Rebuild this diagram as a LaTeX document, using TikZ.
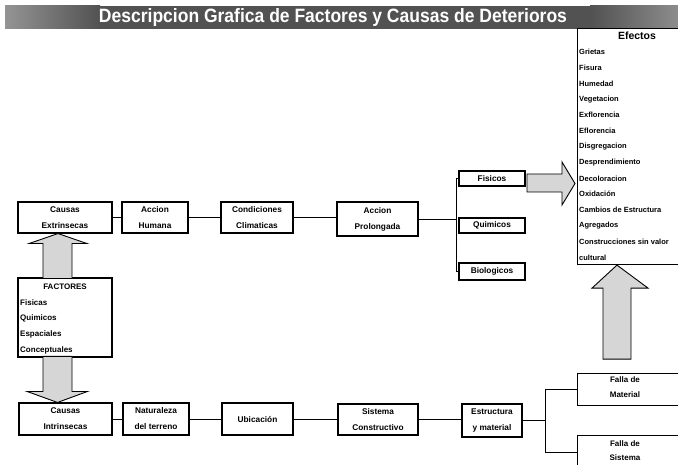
\documentclass[tikz,border=0pt]{standalone}
\usepackage{fontspec}
\setmainfont{Liberation Sans}
\usetikzlibrary{calc}
\begin{document}
\begin{tikzpicture}[x=1pt,y=-1pt,
  box/.style={draw, line width=1.1pt, fill=white, inner sep=0pt,
    font=\fontsize{8.3}{16}\selectfont\bfseries, align=center},
  conn/.style={line width=0.9pt},
  blockarrow/.style={draw, line width=0.9pt, fill=black!16, line join=miter},
  item/.style={anchor=west, inner sep=0pt, font=\fontsize{7.5}{8}\selectfont\bfseries},
  openbox/.style={draw, line width=1.1pt, inner sep=0pt, anchor=north west}]

\useasboundingbox (0,0) rectangle (678,465);
\fill[white] (0,0) rectangle (678,465);

% title bar
\fill[black!68] (5,6) rectangle (678,29);
\shade[left color=black!42, right color=black!68] (5,6) rectangle (100,29);
\shade[left color=black!68, right color=black!45] (590,6) rectangle (678,29);
\node[text=white, inner sep=0pt] (title) at (333,17.5)
  {\resizebox{468pt}{14pt}{\fontsize{16}{16}\selectfont\bfseries Descripcion Grafica de Factores y Causas de Deterioros}};

% Efectos box
\node[openbox, minimum width=125pt, minimum height=236pt] (ef) at (577,28) {};
\node[inner sep=0pt, font=\fontsize{10.5}{11}\selectfont\bfseries] (eft) at (637,36) {Efectos};
\foreach \t [count=\i from 0] in {Grietas,Fisura,Humedad,Vegetacion,Exflorencia,Eflorencia,Disgregacion,Desprendimiento,Decoloracion,Oxidación,Cambios de Estructura,Agregados,Construcciones sin valor,cultural}
  \node[item] (e\i) at (579,{52+15.8*\i}) {\t};

% upper row
\node[box, minimum width=94pt, minimum height=31pt] (ce) at (65,217.5) {Causas\\Extrinsecas};
\node[box, minimum width=66pt, minimum height=31pt] (ah) at (155,217.5) {Accion\\Humana};
\node[box, minimum width=72pt, minimum height=31pt] (cc) at (257,217.5) {Condiciones\\Climaticas};
\node[box, minimum width=81pt, minimum height=34pt] (ap) at (377.5,219) {Accion\\Prolongada};
\node[box, minimum width=66pt, minimum height=15pt] (fis) at (492,178.5) {Fisicos};
\node[box, minimum width=66pt, minimum height=15pt] (qui) at (492,225.5) {Quimicos};
\node[box, minimum width=66pt, minimum height=17pt] (bio) at (492,271.5) {Biologicos};

% factores
\node[box, minimum width=94pt, minimum height=79pt] (fac) at (65,317.5) {};
\node[inner sep=0pt, font=\fontsize{8}{8}\selectfont\bfseries] (fact) at (65,287) {FACTORES};
\foreach \t [count=\i from 0] in {Fisicas,Quimicos,Espaciales,Conceptuales}
  \node[item, font=\fontsize{8}{8}\selectfont\bfseries] (f\i) at (20,{303+15.7*\i}) {\t};

% lower row
\node[box, minimum width=93pt, minimum height=32pt] (ci) at (65.5,419) {Causas\\Intrinsecas};
\node[box, minimum width=66pt, minimum height=32pt] (nt) at (156,419) {Naturaleza\\del terreno};
\node[box, minimum width=71pt, minimum height=32pt] (ub) at (257.5,419) {Ubicación};
\node[box, minimum width=80pt, minimum height=31pt] (sc) at (378,419.5) {Sistema\\Constructivo};
\node[box, minimum width=60pt, minimum height=33pt] (em) at (492,420.5) {Estructura\\y material};
\node[openbox, minimum width=125pt, minimum height=32pt] (fm) at (577,373) {};
\node[inner sep=0pt, align=center, font=\fontsize{8}{15}\selectfont\bfseries] (fmt) at (625,387.5) {Falla de\\Material};
\node[openbox, minimum width=125pt, minimum height=34pt] (fs) at (577,435) {};
\node[inner sep=0pt, align=center, font=\fontsize{8}{14}\selectfont\bfseries] (fst) at (625,450.5) {Falla de\\Sistema};

% connectors upper
\draw[conn] (ce.east) -- (ah.west);
\draw[conn] (ah.east) -- (cc.west);
\draw[conn] (cc.east) -- (cc.east -| ap.west);
\draw[conn] (ap.east) -- ($(ap.east -| fis.west)+(-2,0)$);
\draw[conn] (fis.west) -- ++(-2,0) coordinate (bt) -- (bt |- bio.west) -- (bio.west);

% connectors lower
\draw[conn] (ci.east) -- (nt.west);
\draw[conn] (nt.east) -- (nt.east -| ub.west);
\draw[conn] (ub.east) -- (ub.east -| sc.west);
\draw[conn] (sc.east) -- (sc.east -| em.west);
\coordinate (bj) at ($(em.east)+(23,0)$);
\draw[conn] (em.east) -- (bj);
\draw[conn] (fm.west) -| (bj) |- (fs.west);

% block arrows
\draw[blockarrow] ($(ce.south)+(-7,0)$) -- ++(29,10) -- ++(-15,0) -- ++(0,35)
  -- ++(-29,0) -- ++(0,-35) -- ++(-14,0) -- cycle;
\draw[blockarrow] ($(ci.north)+(-8,0)$) -- ++(30,-11) -- ++(-15.5,0) -- ++(0,-35)
  -- ++(-29,0) -- ++(0,35) -- ++(-16,0) -- cycle;
\draw[blockarrow] ($(fis.east -| ef.west)+(-2,5)$) -- ++(-13,-21.5) -- ++(0,12) -- ++(-35,0)
  -- ++(0,18) -- ++(35,0) -- ++(0,13) -- cycle;
\draw[blockarrow] ($(ef.south west)+(40,0)$) -- ++(31,23) -- ++(-17,0) -- ++(0,71)
  -- ++(-28,0) -- ++(0,-71) -- ++(-11,0) -- cycle;
\end{tikzpicture}
\end{document}
